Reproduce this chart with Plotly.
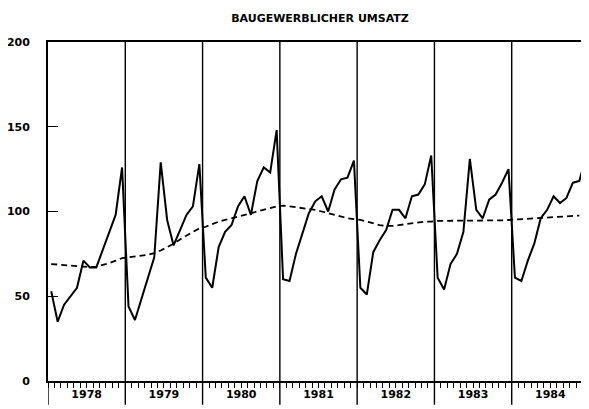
import plotly.graph_objects as go

years = [1978, 1979, 1980, 1981, 1982, 1983, 1984]
months = list(range(1, 13))

umsatz = [
    # 1978
    53, 35, 45, 50, 55, 71, 67, 67, 77, 87, 98, 126,
    # 1979
    44, 36, 48, 60, 73, 129, 95, 80, 89, 98, 103, 128,
    # 1980
    61, 55, 79, 88, 92, 103, 109, 98, 118, 126, 123, 148,
    # 1981
    60, 59, 75, 87, 99, 106, 109, 100, 113, 119, 120, 130,
    # 1982
    55, 51, 76, 83, 89, 101, 101, 96, 109, 110, 116, 133,
    # 1983
    61, 54, 69, 75, 88, 131, 101, 96, 107, 110, 117, 125,
    # 1984
    61, 59, 71, 81, 96, 101, 109, 105, 108, 117, 118, 132,
]

trend = [
    # 1978
    69, 68.8, 68.5, 68.2, 67.8, 67.5, 67.2, 67.5, 68.5, 69.5, 71, 72.5,
    # 1979
    73, 73.5, 74, 74.5, 75.5, 77, 79, 81, 83.5, 86, 88, 90,
    # 1980
    91, 92.5, 94, 95, 96, 97, 98, 99, 100, 101, 102, 103,
    # 1981
    103.5, 103, 102.5, 102, 101.5, 101, 100, 99, 98, 97, 96, 95.5,
    # 1982
    95, 94, 93, 92, 91.5, 91.5, 92, 92.5, 93, 93.5, 94, 94,
    # 1983
    94.5, 94.5, 94.5, 94.5, 94.5, 94.5, 94.5, 94.5, 94.5, 94.5, 94.8, 95,
    # 1984
    95.2, 95.4, 95.6, 95.8, 96, 96.3, 96.6, 96.9, 97.2, 97.4, 97.6, None,
]

y_ticks = [0, 50, 100, 150, 200]
title = "BAUGEWERBLICHER UMSATZ"

n = len(years) * 12
xpos = [i + 0.5 for i in range(n)]

fig = go.Figure()
fig.add_trace(go.Scatter(x=xpos, y=trend, mode="lines",
                         line=dict(color="black", width=1.8, dash="6px,4px"),
                         connectgaps=False, showlegend=False, hoverinfo="skip"))
fig.add_trace(go.Scatter(x=xpos, y=umsatz, mode="lines",
                         line=dict(color="black", width=2),
                         showlegend=False))

# year separators (extend below the axis into the label band)
for k in range(0, len(years)):
    fig.add_shape(type="line", xref="x", yref="paper", x0=12 * k, x1=12 * k,
                  y0=-0.07, y1=1 if k > 0 else 0,
                  line=dict(color="black", width=1.4))

tickvals = list(range(0, n + 1))
ticktext = ["" for _ in tickvals]
for k, yr in enumerate(years):
    ticktext[12 * k + 6] = str(yr)

font = "DejaVu Sans"
fig.update_layout(
    width=581, height=401,
    margin=dict(l=40, r=0, t=34, b=28, autoexpand=False),
    paper_bgcolor="white", plot_bgcolor="white",
    title=dict(text=title, x=0.537, xanchor="center", y=0.975, yanchor="middle",
               font=dict(family=font, size=11, color="black", weight="bold")),
    xaxis=dict(range=[0, n], tickmode="array", tickvals=tickvals, ticktext=ticktext,
               ticks="outside", ticklen=5, tickwidth=1, tickcolor="black",
               showline=True, linecolor="black", linewidth=1.8, mirror=True,
               showgrid=False, zeroline=False, automargin=False,
               tickfont=dict(family=font, size=11, color="black", weight="bold"),
               ticklabelstandoff=-3),
    yaxis=dict(range=[0, 200], tickmode="array", tickvals=y_ticks,
               ticks="inside", ticklen=10, tickwidth=1.2, tickcolor="black",
               showline=True, linecolor="black", linewidth=1.8,
               showgrid=False, zeroline=False, automargin=False,
               tickfont=dict(family=font, size=11, color="black", weight="bold"),
               ticklabelstandoff=14),
)

fig.write_html("out.html")
